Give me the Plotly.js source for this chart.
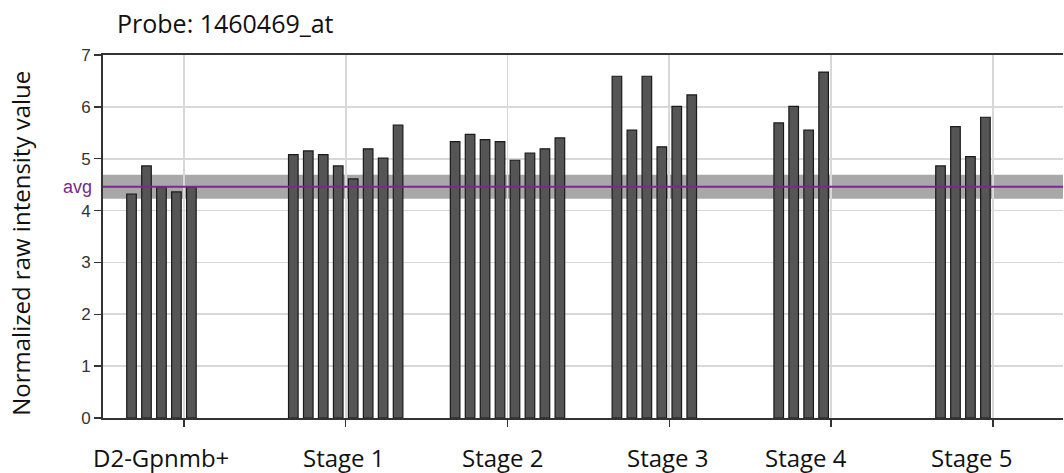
<!DOCTYPE html>
<html>
<head>
<meta charset="utf-8">
<script src="https://cdn.plot.ly/plotly-3.0.1.min.js"></script>
<style>html,body{margin:0;padding:0;background:#fff;}</style>
</head>
<body>
<div id="chart" style="width:1064px;height:473px;"></div>
<script>
// ---- data ----
const categories = ['D2-Gpnmb+', 'Stage 1', 'Stage 2', 'Stage 3', 'Stage 4', 'Stage 5'];
const d2Gpnmb = [4.32, 4.86, 4.45, 4.36, 4.45];
const stage1 = [5.08, 5.15, 5.08, 4.86, 4.61, 5.19, 5.01, 5.65];
const stage2 = [5.33, 5.47, 5.37, 5.33, 4.97, 5.11, 5.19, 5.40];
const stage3 = [6.59, 5.55, 6.59, 5.23, 6.01, 6.23];
const stage4 = [5.69, 6.01, 5.55, 6.67];
const stage5 = [4.86, 5.62, 5.04, 5.80];
const avgValue = 4.46;
const avgBandLow = 4.23;
const avgBandHigh = 4.69;
const yTicks = [0, 1, 2, 3, 4, 5, 6, 7];
const titleText = 'Probe: 1460469_at';
const yTitleText = 'Normalized raw intensity value';
// label offsets (in category units) of the category text under the axis
const labelOffsets = [-0.14, -0.01, -0.03, -0.01, -0.155, -0.13];

const groups = [d2Gpnmb, stage1, stage2, stage3, stage4, stage5];
const xIdx = categories.map((c, i) => i);
const nSlots = Math.max(...groups.map(g => g.length));

const traces = [];
for (let j = 0; j < nSlots; j++) {
  traces.push({
    type: 'bar',
    x: xIdx,
    y: groups.map(g => (j < g.length ? g[j] : null)),
    marker: {color: '#555555', line: {color: '#1a1a1a', width: 1.2}},
    showlegend: false,
    hoverinfo: 'y'
  });
}

const plotW = 960;
const catPx = 161.8;

const annotations = categories.map((c, i) => ({
  text: c,
  x: i + labelOffsets[i],
  xref: 'x',
  y: -0.108,
  yref: 'paper',
  xanchor: 'center',
  yanchor: 'middle',
  showarrow: false,
  font: {family: 'Open Sans', size: 24, color: '#111'}
}));
annotations.push({
  text: 'avg',
  x: 0, xref: 'paper', xanchor: 'right', xshift: -9,
  y: avgValue, yref: 'y', yanchor: 'middle',
  showarrow: false,
  font: {family: 'Liberation Sans', size: 18, color: '#7a2a8c'}
});
annotations.push({
  text: yTitleText,
  textangle: -90,
  x: -82 / plotW, xref: 'paper', xanchor: 'center',
  y: 0.48, yref: 'paper', yanchor: 'middle',
  showarrow: false,
  font: {family: 'Open Sans', size: 24, color: '#111'}
});

const layout = {
  width: 1064,
  height: 473,
  margin: {l: 103, r: 1, t: 55, b: 55, pad: 0},
  paper_bgcolor: '#ffffff',
  plot_bgcolor: '#ffffff',
  barmode: 'group',
  bargap: 0.26,
  bargroupgap: 0.36,
  title: {
    text: titleText,
    font: {family: 'Open Sans', size: 25, color: '#111'},
    x: 117 / 1064, xref: 'container', xanchor: 'left',
    y: 1 - 24 / 473, yref: 'container', yanchor: 'middle'
  },
  xaxis: {
    range: [-0.5, -0.5 + plotW / catPx],
    tickvals: xIdx,
    showticklabels: false,
    ticks: 'outside', ticklen: 7, tickwidth: 1.5, tickcolor: '#333',
    showgrid: true, gridcolor: '#d8d8d8', gridwidth: 1.6,
    showline: true, linecolor: '#333', linewidth: 2, mirror: true,
    zeroline: false, fixedrange: true
  },
  yaxis: {
    range: [0, 7],
    tickvals: yTicks,
    ticks: 'outside', ticklen: 7, tickwidth: 1.5, tickcolor: '#333',
    tickfont: {family: 'Liberation Sans', size: 17, color: '#333'},
    showgrid: true, gridcolor: '#d8d8d8', gridwidth: 1.6,
    showline: true, linecolor: '#333', linewidth: 2,
    zeroline: false, fixedrange: true
  },
  shapes: [
    {type: 'rect', xref: 'paper', x0: 0, x1: 1, yref: 'y', y0: avgBandLow, y1: avgBandHigh,
     fillcolor: '#a8a8a8', line: {width: 0}, layer: 'below'},
    {type: 'line', xref: 'paper', x0: 0, x1: 1, yref: 'y', y0: avgValue, y1: avgValue,
     line: {color: '#7a2a8c', width: 2}, layer: 'above'}
  ],
  annotations: annotations
};

Plotly.newPlot('chart', traces, layout, {displayModeBar: false, staticPlot: true});
</script>
</body>
</html>
